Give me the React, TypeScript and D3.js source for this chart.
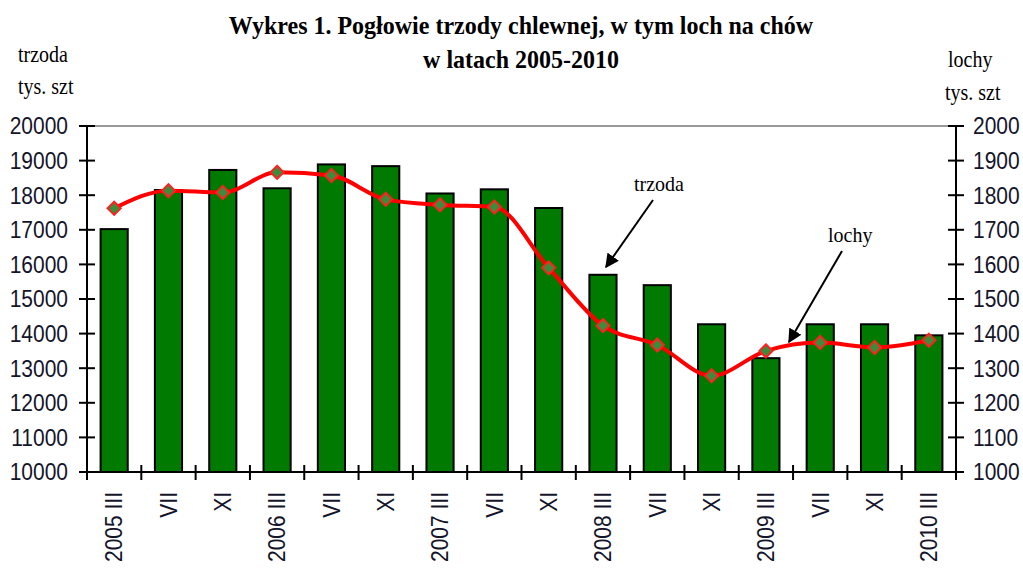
import React from 'react'
import * as d3 from 'd3'

// okresy (marzec, lipiec, listopad)
const periods = [
  '2005 III', 'VII', 'XI',
  '2006 III', 'VII', 'XI',
  '2007 III', 'VII', 'XI',
  '2008 III', 'VII', 'XI',
  '2009 III', 'VII', 'XI',
  '2010 III'
]

// pogłowie trzody, tys. szt (lewa oś)
const trzoda = [
  17020, 18150, 18730, 18200, 18890, 18840, 18050, 18170,
  17630, 15700, 15400, 14270, 13290, 14270, 14270, 13950
]

// lochy na chów, tys. szt (prawa oś)
const lochy = [
  1762, 1813, 1808, 1866, 1857, 1788, 1772, 1766,
  1590, 1423, 1367, 1278, 1350, 1374, 1360, 1381
]

const leftTicks = [10000, 11000, 12000, 13000, 14000, 15000, 16000, 17000, 18000, 19000, 20000]
const rightTicks = [1000, 1100, 1200, 1300, 1400, 1500, 1600, 1700, 1800, 1900, 2000]

const W = 1023
const H = 577
const margin = { top: 126, right: 67, bottom: 105, left: 87 }

const axisFont = '"Liberation Sans", Arial, sans-serif'
const serif = '"Liberation Serif", "Times New Roman", serif'
const textColor = '#14142a'

export default function App() {
  const x0 = margin.left
  const x1 = W - margin.right
  const yTop = margin.top
  const yBot = H - margin.bottom

  const x = d3.scaleBand<number>()
    .domain(d3.range(periods.length))
    .range([x0, x1])
    .paddingInner(0.5)
    .paddingOuter(0.25)

  const band = d3.scaleBand<number>()
    .domain(d3.range(periods.length))
    .range([x0, x1])

  const yL = d3.scaleLinear().domain([10000, 20000]).range([yBot, yTop])
  const yR = d3.scaleLinear().domain([1000, 2000]).range([yBot, yTop])

  const cx = (i: number) => band(i)! + band.bandwidth() / 2

  const line = d3.line<number>()
    .x((_, i) => cx(i))
    .y(d => yR(d))
    .curve(d3.curveMonotoneX)

  const diamond = d3.symbol().type(d3.symbolDiamond2).size(110)()

  return (
    <svg width={W} height={H} style={{ position: 'absolute', left: 0, top: 0, background: '#fff' }}>
      <defs>
        <marker id="arrow" viewBox="0 0 10 10" refX="9" refY="5" markerWidth="7" markerHeight="7" orient="auto">
          <path d="M0,0 L10,5 L0,10 z" fill="#000" />
        </marker>
      </defs>

      {/* tytuł */}
      <g fontFamily={serif} fontWeight="bold" fontSize={24} textAnchor="middle" fill="#000">
        <text transform="translate(521,34) scale(1,1.05)">Wykres 1. Pogłowie trzody chlewnej, w tym loch na chów</text>
        <text transform="translate(521,68) scale(1,1.05)">w latach 2005-2010</text>
      </g>

      {/* opisy osi */}
      <g fontFamily={serif} fontSize={20} fill="#000">
        <text transform="translate(18,62) scale(1,1.12)">trzoda</text>
        <text transform="translate(18,94) scale(1,1.12)">tys. szt</text>
        <text transform="translate(948,67) scale(1,1.12)">lochy</text>
        <text transform="translate(945,100) scale(1,1.12)">tys. szt</text>
      </g>

      {/* górna linia obszaru */}
      <line x1={x0} x2={x1} y1={yTop} y2={yTop} stroke="#999" strokeWidth={2} />

      {/* słupki */}
      {trzoda.map((v, i) => (
        <rect key={i} x={x(i)} y={yL(v)} width={x.bandwidth()} height={yBot - yL(v)}
          fill="#007a00" stroke="#000" strokeWidth={2} />
      ))}

      {/* osie */}
      <g stroke="#000" strokeWidth={2}>
        <line x1={x0} x2={x0} y1={yTop} y2={yBot} />
        <line x1={x1} x2={x1} y1={yTop} y2={yBot} />
        <line x1={x0} x2={x1} y1={yBot} y2={yBot} />
        {leftTicks.map(t => (
          <line key={'l' + t} x1={x0 - 8} x2={x0 + 8} y1={yL(t)} y2={yL(t)} />
        ))}
        {rightTicks.map(t => (
          <line key={'r' + t} x1={x1 - 8} x2={x1 + 8} y1={yR(t)} y2={yR(t)} />
        ))}
        {d3.range(periods.length + 1).map(i => {
          const px = i < periods.length ? band(i)! : x1
          return <line key={'x' + i} x1={px} x2={px} y1={yBot - 7} y2={yBot + 8} />
        })}
      </g>

      <g fontFamily={axisFont} fontSize={21} fill={textColor}>
        {leftTicks.map(t => (
          <text key={'lt' + t} transform={`translate(${x0 - 19},${yL(t)}) scale(1,1.1)`}
            dy="0.36em" textAnchor="end">{t}</text>
        ))}
        {rightTicks.map(t => (
          <text key={'rt' + t} transform={`translate(${x1 + 17},${yR(t)}) scale(1,1.1)`}
            dy="0.36em">{t}</text>
        ))}
        {periods.map((p, i) => (
          <text key={'p' + i} transform={`translate(${cx(i)},${yBot + 20}) rotate(-90) scale(1,1.1)`}
            dy="0.36em" textAnchor="end">{p}</text>
        ))}
      </g>

      {/* linia loch */}
      <path d={line(lochy) ?? ''} fill="none" stroke="#ff0000" strokeWidth={4} strokeLinejoin="round" />
      {lochy.map((v, i) => (
        <path key={'m' + i} d={diamond ?? ''} transform={`translate(${cx(i)},${yR(v)})`}
          fill="#3c8c3c" stroke="#ff2020" strokeWidth={2} />
      ))}

      {/* adnotacje */}
      <g fontFamily={serif} fontSize={20} fill="#000">
        <text transform="translate(634,191) scale(1,1.1)">trzoda</text>
        <text transform="translate(828,242) scale(1,1.1)">lochy</text>
      </g>
      <g stroke="#000" strokeWidth={2}>
        <line x1={653} y1={200} x2={606} y2={267} markerEnd="url(#arrow)" />
        <line x1={842} y1={251} x2={789} y2={342} markerEnd="url(#arrow)" />
      </g>
    </svg>
  )
}
